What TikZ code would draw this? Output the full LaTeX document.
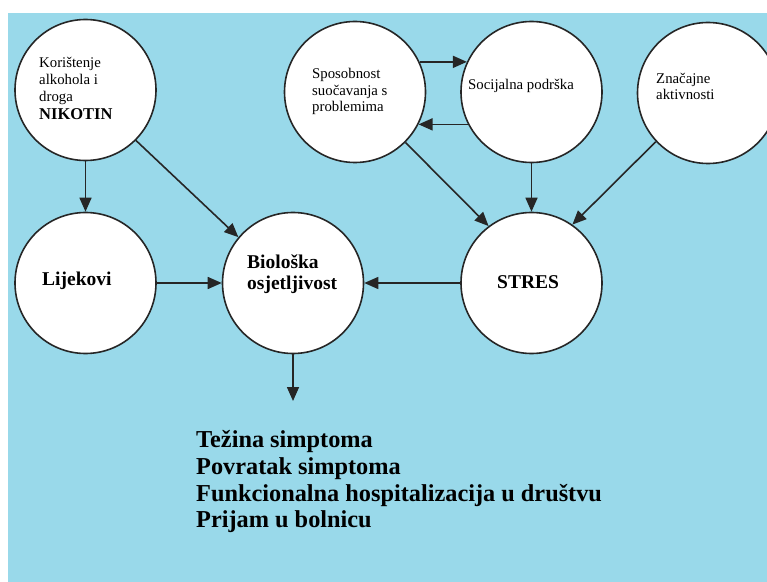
\documentclass[tikz,border=0pt]{standalone}
\usepackage{fontspec}
\setmainfont{Liberation Serif}
\usetikzlibrary{arrows.meta}
\definecolor{bg}{HTML}{99D9EA}
\tikzset{
 bub/.style={circle, draw=black!85, line width=1.6bp, fill=white, minimum size=141bp, inner sep=0pt},
 lbl/.style={inner sep=0pt, align=left, anchor=base west, font=\fontsize{14.8bp}{16.8bp}\selectfont},
 blbl/.style={inner sep=0pt, align=left, anchor=base west, font=\fontsize{19.5bp}{21bp}\selectfont\bfseries},
 conn/.style={line width=1.6bp, draw=black!85, -{Triangle[length=14bp,width=12bp]}},
 res/.style={inner sep=0pt, anchor=base west, font=\fontsize{24.3bp}{27bp}\selectfont\bfseries}
}
\begin{document}
\begin{tikzpicture}[x=1bp,y=-1bp]
\useasboundingbox (0,0) rectangle (767,582);
\clip (0,0) rectangle (767,582);
\fill[white] (0,0) rectangle (767,582);
\fill[bg] (8,13) rectangle (767,582);

\node[bub] (kor) at (85.5,90) {};
\node[bub] (lij) at (85.5,283) {};
\node[bub] (bio) at (293,283) {};
\node[bub] (str) at (531.5,283) {};
\node[bub] (spo) at (355,92) {};
\node[bub] (soc) at (531.5,92) {};
\node[bub] (zna) at (708,93) {};

\node[lbl] (korT) at (39,120) {Korištenje\\alkohola i\\droga\\[2bp]{\fontsize{16.5bp}{18bp}\selectfont\bfseries NIKOTIN}};
\node[lbl] (spoT) at (312,112) {Sposobnost\\suočavanja s\\problemima};
\node[lbl] (socT) at (468,90) {Socijalna podrška};
\node[lbl] (znaT) at (656,100) {Značajne\\aktivnosti};
\node[blbl] (lijT) at (42,285) {Lijekovi};
\node[blbl] (bioT) at (247,289) {Biološka\\osjetljivost};
\node[blbl] (strT) at (497,288) {STRES};

\node[res] (r1) at (196,447) {Težina simptoma};
\node[res] (r2) at (196,474) {Povratak simptoma};
\node[res] (r3) at (196,501) {Funkcionalna hospitalizacija u društvu};
\node[res] (r4) at (196,527) {Prijam u bolnicu};

\coordinate (out) at (293,401);
\draw[conn] (kor.south) -- (lij.north);
\draw[conn] (kor.-45) -- (bio.140);
\draw[conn] (lij.east) -- (bio.west);
\draw[conn] (str.west) -- (bio.east);
\draw[conn] (bio.south) -- (out);
\draw[conn] (spo.25) -- (soc.155);
\draw[conn] (soc.207) -- (spo.-27);
\draw[conn] (spo.-45) -- (str.127);
\draw[conn] (soc.south) -- (str.north);
\draw[conn] (zna.-137) -- (str.55);
\end{tikzpicture}
\end{document}
